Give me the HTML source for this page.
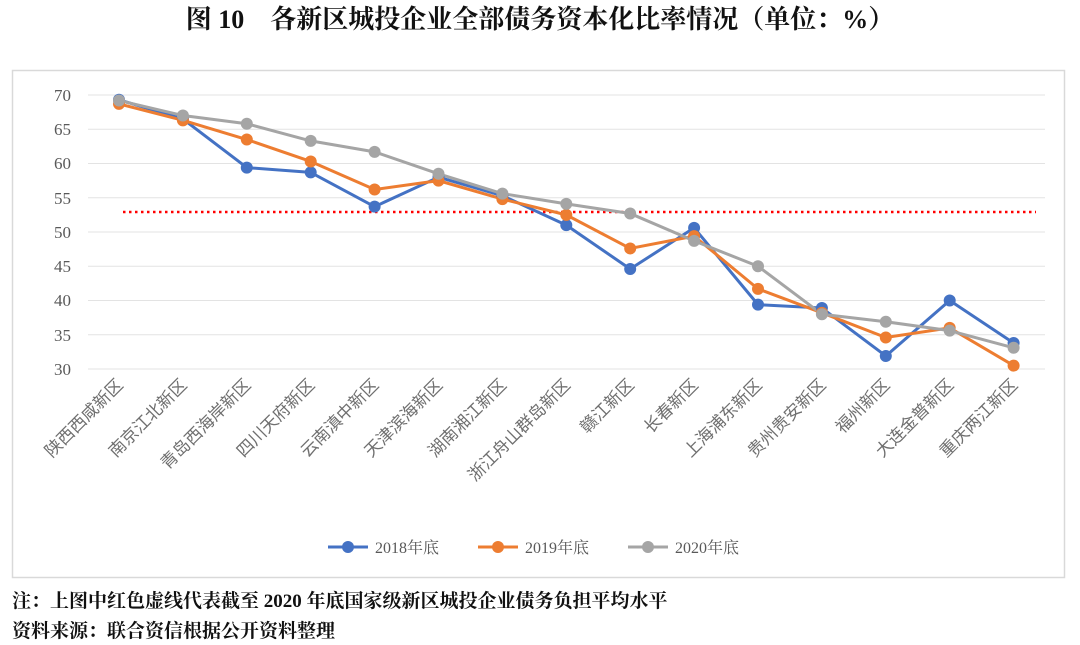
<!DOCTYPE html>
<html><head><meta charset="utf-8"><style>
body{margin:0;width:1080px;height:645px;background:#fff;overflow:hidden}
</style></head><body>
<svg width="1080" height="645" xmlns="http://www.w3.org/2000/svg" style="position:absolute;left:0;top:0">
<text x="540" y="28" text-anchor="middle" font-family="Liberation Serif, Noto Serif CJK SC, serif" font-weight="bold" font-size="26" fill="#111">图 10　各新区城投企业全部债务资本化比率情况（单位：%）</text>
<rect x="12.5" y="70.5" width="1052" height="507" fill="#fff" stroke="#d9d9d9" stroke-width="1.5"/>
<g stroke="#e3e3e3" stroke-width="1">
<line x1="88" x2="1045" y1="95" y2="95"/><line x1="88" x2="1045" y1="129.3" y2="129.3"/><line x1="88" x2="1045" y1="163.5" y2="163.5"/><line x1="88" x2="1045" y1="197.8" y2="197.8"/><line x1="88" x2="1045" y1="232" y2="232"/><line x1="88" x2="1045" y1="266.3" y2="266.3"/><line x1="88" x2="1045" y1="300.5" y2="300.5"/><line x1="88" x2="1045" y1="334.8" y2="334.8"/><line x1="88" x2="1045" y1="369" y2="369"/>
</g>
<g font-family="Liberation Serif, serif" font-size="17" fill="#595959" text-anchor="end">
<text x="71" y="101">70</text><text x="71" y="135">65</text><text x="71" y="169">60</text><text x="71" y="204">55</text><text x="71" y="238">50</text><text x="71" y="272">45</text><text x="71" y="306">40</text><text x="71" y="341">35</text><text x="71" y="375">30</text>
</g>
<line x1="123" x2="1036" y1="212" y2="212" stroke="#ff0000" stroke-width="2.5" stroke-dasharray="2.5 3.5"/>
<g id="s"></g>
<g font-family="Liberation Sans, Noto Sans CJK SC, sans-serif" font-size="17" fill="#6f6f6f" text-anchor="end" id="lb"></g>
<g font-family="Liberation Serif, Noto Serif CJK SC, serif" font-size="16" fill="#595959">
<line x1="328" x2="368" y1="547" y2="547" stroke="#4472c4" stroke-width="3"/><circle cx="348" cy="547" r="6" fill="#4472c4"/><text x="375" y="553">2018年底</text>
<line x1="478" x2="518" y1="547" y2="547" stroke="#ed7d31" stroke-width="3"/><circle cx="498" cy="547" r="6" fill="#ed7d31"/><text x="525" y="553">2019年底</text>
<line x1="628" x2="668" y1="547" y2="547" stroke="#a5a5a5" stroke-width="3"/><circle cx="648" cy="547" r="6" fill="#a5a5a5"/><text x="675" y="553">2020年底</text>
</g>
<g font-family="Liberation Serif, Noto Serif CJK SC, serif" font-weight="bold" font-size="19" fill="#111">
<text x="12" y="607">注：上图中红色虚线代表截至 2020 年底国家级新区城投企业债务负担平均水平</text>
<text x="12" y="637">资料来源：联合资信根据公开资料整理</text>
</g>
</svg>
<script>
const d=[[69.3,66.5,59.4,58.7,53.7,58,55.3,51,44.6,50.6,39.4,38.9,31.9,40,33.8],
[68.7,66.3,63.5,60.3,56.2,57.5,54.8,52.5,47.6,49.4,41.7,38.2,34.6,36,30.5],
[69.2,67,65.8,63.3,61.7,58.5,55.6,54.1,52.7,48.7,45,38,36.9,35.6,33.1]];
const c=["#4472c4","#ed7d31","#a5a5a5"];
const n=["陕西西咸新区","南京江北新区","青岛西海岸新区","四川天府新区","云南滇中新区","天津滨海新区","湖南湘江新区","浙江舟山群岛新区","赣江新区","长春新区","上海浦东新区","贵州贵安新区","福州新区","大连金普新区","重庆两江新区"];
const X=i=>119+i*63.9,Y=v=>369-(v-30)*6.85;
let h="";
[0,1,2].forEach(k=>{
 h+=`<polyline fill="none" stroke="${c[k]}" stroke-width="3" stroke-linejoin="round" points="${d[k].map((v,i)=>X(i)+','+Y(v)).join(' ')}"/>`;
});
[0,1,2].forEach(k=>d[k].forEach((v,i)=>h+=`<circle cx="${X(i)}" cy="${Y(v)}" r="6" fill="${c[k]}"/>`));
document.getElementById('s').innerHTML=h;
let l="";n.forEach((t,i)=>{const x=X(i)+5,y=386;l+=`<text transform="translate(${x},${y}) rotate(-45)">${t}</text>`});
document.getElementById('lb').innerHTML=l;
</script>
</body></html>
